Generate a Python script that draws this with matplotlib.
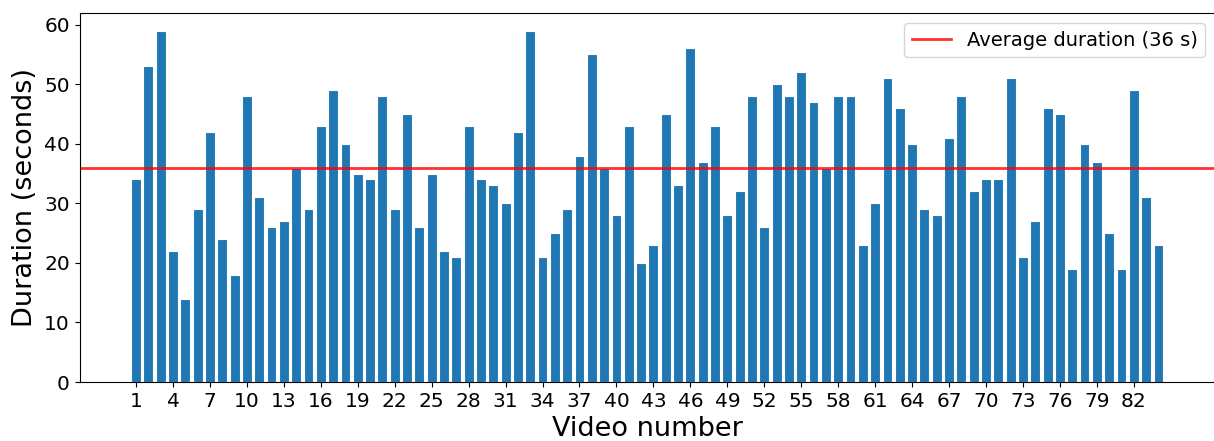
import matplotlib
matplotlib.use("Agg")
import matplotlib.pyplot as plt
import numpy as np

durations = [34, 53, 59, 22, 14, 29, 42, 24, 18, 48,
             31, 26, 27, 36, 29, 43, 49, 40, 35, 34,
             48, 29, 45, 26, 35, 22, 21, 43, 34, 33,
             30, 42, 59, 21, 25, 29, 38, 55, 36, 28,
             43, 20, 23, 45, 33, 56, 37, 43, 28, 32,
             48, 26, 50, 48, 52, 47, 36, 48, 48, 23,
             30, 51, 46, 40, 29, 28, 41, 48, 32, 34,
             34, 51, 21, 27, 46, 45, 19, 40, 37, 25,
             19, 49, 31, 23]
video_numbers = list(range(1, len(durations) + 1))
tick_positions = list(range(1, 85, 3))
average = 36

fig = plt.figure(figsize=(12.14, 4.41), dpi=100)
ax = fig.add_axes([79.5 / 1214, 59 / 441, (1215 - 79.5) / 1214, (382 - 13) / 441])
ax.bar(video_numbers, durations, width=0.8, color="#1f77b4", edgecolor="white", linewidth=0.8)
ax.axhline(average, color="red", alpha=0.8, linewidth=2, label="Average duration (36 s)")
ax.set_xticks(tick_positions)
ax.set_xlim(-3.59, 88.59)
ax.set_ylim(0, 61.95)
ax.tick_params(axis="both", labelsize=14.5)
ax.set_xlabel("Video number", fontsize=19.5)
ax.set_ylabel("Duration (seconds)", fontsize=19.5)
ax.legend(loc="upper right", fontsize=14)
fig.savefig("out.png", dpi=100)
